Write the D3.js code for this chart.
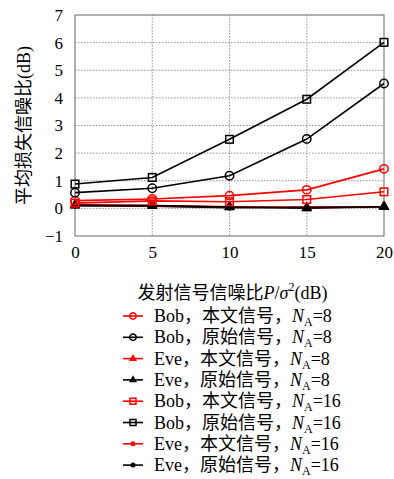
<!DOCTYPE html>
<html>
<head>
<meta charset="utf-8">
<script src="https://cdn.jsdelivr.net/npm/d3@7"></script>
<style>
  body { margin: 0; background: #fff; }
  svg text { font-family: "Liberation Serif", "Noto Sans CJK SC", serif; }
</style>
</head>
<body>
<div id="chart"></div>
<script>
var snr = [0, 5, 10, 15, 20];
var yTicks = [-1, 0, 1, 2, 3, 4, 5, 6, 7];

// values (dB)
var bobOursN8 = [0.28, 0.34, 0.46, 0.67, 1.43];
var bobOrigN8 = [0.57, 0.73, 1.18, 2.51, 4.52];
var eveOursN8 = [0.12, 0.10, 0.06, 0.02, 0.06];
var eveOrigN8 = [0.11, 0.10, 0.05, 0.01, 0.06];
var bobOursN16 = [0.19, 0.27, 0.24, 0.32, 0.60];
var bobOrigN16 = [0.88, 1.12, 2.50, 3.95, 6.01];
var eveOursN16 = [0.12, 0.09, 0.04, 0.05, 0.06];
var eveOrigN16 = [0.10, 0.08, 0.02, 0.04, 0.06];

var names = ["Bob，本文信号，", "Bob，原始信号，", "Eve，本文信号，", "Eve，原始信号，",
             "Bob，本文信号，", "Bob，原始信号，", "Eve，本文信号，", "Eve，原始信号，"];
var nA = ["8", "8", "8", "8", "16", "16", "16", "16"];

var series = [
  {values: bobOursN8, color: "#ff0000", mark: "circle"},
  {values: bobOrigN8, color: "#000000", mark: "circle"},
  {values: eveOursN8, color: "#ff0000", mark: "triangle"},
  {values: eveOrigN8, color: "#000000", mark: "triangle"},
  {values: bobOursN16, color: "#ff0000", mark: "square"},
  {values: bobOrigN16, color: "#000000", mark: "square"},
  {values: eveOursN16, color: "#ff0000", mark: "dot"},
  {values: eveOrigN16, color: "#000000", mark: "dot"}
];

var svgWidth = 394, svgHeight = 479;
var margin = {top: 15, left: 75};
var width = 309, height = 221;

var svg = d3.select("#chart").append("svg")
  .attr("width", svgWidth)
  .attr("height", svgHeight);

var g = svg.append("g")
  .attr("transform", `translate(${margin.left}, ${margin.top})`);

var x = d3.scaleLinear().domain([0, 20]).range([0, width]);
var y = d3.scaleLinear().domain([-1, 7]).range([height, 0]);

// grid
g.append("g").selectAll("line").data(snr.slice(1, -1)).enter().append("line")
  .attr("x1", d => x(d)).attr("x2", d => x(d))
  .attr("y1", 0).attr("y2", height)
  .attr("stroke", "#777").attr("stroke-width", 0.8).attr("stroke-dasharray", "1.5,1.5");
g.append("g").selectAll("line").data(yTicks.slice(1, -1)).enter().append("line")
  .attr("y1", d => y(d)).attr("y2", d => y(d))
  .attr("x1", 0).attr("x2", width)
  .attr("stroke", "#777").attr("stroke-width", 0.8).attr("stroke-dasharray", "1.5,1.5");

// axes
var bottomAxis = d3.axisBottom(x).tickValues(snr).tickSize(0).tickPadding(10);
var leftAxis = d3.axisLeft(y).tickValues(yTicks).tickSize(0).tickPadding(12)
  .tickFormat(d => d < 0 ? "\u2212" + Math.abs(d) : d);

var xa = g.append("g").attr("transform", `translate(0, ${height})`).call(bottomAxis);
var ya = g.append("g").call(leftAxis);
[xa, ya].forEach(function(a) {
  a.select(".domain").remove();
  a.selectAll("text")
    .style("font-family", "'Liberation Serif', serif")
    .style("font-size", "17px")
    .attr("fill", "#000");
});

g.append("rect")
  .attr("width", width).attr("height", height)
  .attr("fill", "none").attr("stroke", "#666").attr("stroke-width", 1);

// lines and markers
var line = d3.line().x((d, i) => x(snr[i])).y(d => y(d));

function drawMark(sel, mark, color) {
  if (mark === "circle") {
    sel.append("circle").attr("r", 4.2).attr("fill", "none")
      .attr("stroke", color).attr("stroke-width", 1.5);
  } else if (mark === "square") {
    sel.append("rect").attr("x", -3.8).attr("y", -3.8).attr("width", 7.6).attr("height", 7.6)
      .attr("fill", "none").attr("stroke", color).attr("stroke-width", 1.5);
  } else if (mark === "triangle") {
    sel.append("path").attr("d", d3.symbol(d3.symbolTriangle, 40)())
      .attr("fill", color).attr("stroke", color).attr("stroke-width", 1);
  } else {
    sel.append("circle").attr("r", 2.8).attr("fill", color);
  }
}

// draw bottom layers first so the big curves sit on top
var order = [6, 7, 2, 3, 4, 0, 1, 5];
order.forEach(function(k) {
  var s = series[k];
  g.append("path").datum(s.values)
    .attr("d", line)
    .attr("fill", "none")
    .attr("stroke", s.color)
    .attr("stroke-width", 1.6);
  g.append("g").selectAll("g").data(s.values).enter().append("g")
    .attr("transform", (d, i) => `translate(${x(snr[i])}, ${y(d)})`)
    .each(function() { drawMark(d3.select(this), s.mark, s.color); });
});

// axis titles
svg.append("text")
  .attr("transform", `translate(30, ${margin.top + height / 2}) rotate(-90)`)
  .attr("text-anchor", "middle")
  .style("font-size", "18px")
  .text("平均损失信噪比(dB)");

var xt = svg.append("text")
  .attr("x", margin.left + width / 2 + 3)
  .attr("y", 299)
  .attr("text-anchor", "middle")
  .style("font-size", "18px");
xt.append("tspan").text("发射信号信噪比");
xt.append("tspan").attr("font-style", "italic").text("P");
xt.append("tspan").text("/");
xt.append("tspan").attr("font-style", "italic").text("σ");
xt.append("tspan").style("font-size", "12px").attr("dy", -8).text("2");
xt.append("tspan").attr("dy", 8).text("(dB)");

// legend
var legend = svg.append("g").attr("transform", "translate(123, 316)");
var rowH = 21.3;
series.forEach(function(s, i) {
  var row = legend.append("g").attr("transform", `translate(0, ${i * rowH})`);
  row.append("line").attr("x1", 0).attr("x2", 20)
    .attr("stroke", s.color).attr("stroke-width", 1.6);
  var m = row.append("g").attr("transform", "translate(10, 0)");
  if (s.mark === "circle") {
    m.append("circle").attr("r", 3.2).attr("fill", "none").attr("stroke", s.color).attr("stroke-width", 1.5);
  } else if (s.mark === "square") {
    m.append("rect").attr("x", -3).attr("y", -3).attr("width", 6).attr("height", 6)
      .attr("fill", "none").attr("stroke", s.color).attr("stroke-width", 1.5);
  } else if (s.mark === "triangle") {
    m.append("path").attr("d", d3.symbol(d3.symbolTriangle, 28)()).attr("fill", s.color);
  } else {
    m.append("circle").attr("r", 2.5).attr("fill", s.color);
  }
  var t = row.append("text").attr("x", 31).attr("y", 6).style("font-size", "18px");
  t.append("tspan").text(names[i]);
  t.append("tspan").attr("font-style", "italic").text("N");
  t.append("tspan").style("font-size", "12px").attr("dy", 4).text("A");
  t.append("tspan").attr("dy", -4).text("=" + nA[i]);
});
</script>
</body>
</html>
